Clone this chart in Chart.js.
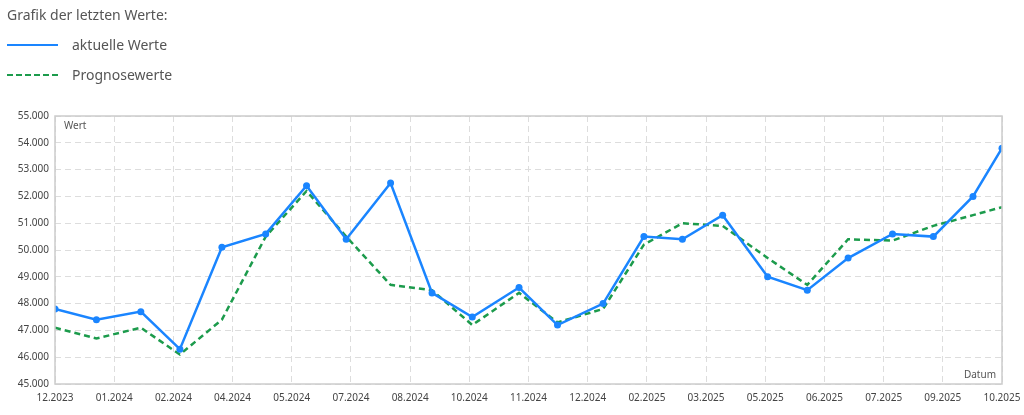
<!DOCTYPE html>
<html>
<head>
<meta charset="utf-8">
<script src="https://cdn.jsdelivr.net/npm/chart.js@4"></script>
<style>
    body { margin: 0; background: #fff; }
    #wrap { position: relative; width: 1024px; height: 415px; overflow: hidden; }
    #chart { position: absolute; left: 0; top: 0; }
    .legend { position: absolute; left: 7px; top: 3px; font-family: "Noto Sans", "Liberation Sans", sans-serif; color: #555; }
    .legend .title { font-size: 14px; height: 27px; line-height: 24px; }
    .legend .item { position: relative; height: 30px; line-height: 30px; font-size: 14px; padding-left: 65px; }
    .legend .item span { position: absolute; left: 0; top: 14px; width: 51px; }
    .legend .blue { border-top: 2.5px solid #1a85ff; }
    .legend .green { border-top: 2.5px dashed #1c9b4c; }
</style>
</head>
<body>
<div id="wrap">
    <canvas id="chart" width="1024" height="415"></canvas>
    <div class="legend">
        <div class="title">Grafik der letzten Werte:</div>
        <div class="item"><span class="blue"></span>aktuelle Werte</div>
        <div class="item"><span class="green"></span>Prognosewerte</div>
    </div>
</div>
<script>
// x axis labels (one per grid line)
const tickLabels = ['12.2023', '01.2024', '02.2024', '04.2024', '05.2024', '07.2024', '08.2024',
    '10.2024', '11.2024', '12.2024', '02.2025', '03.2025', '05.2025', '06.2025', '07.2025',
    '09.2025', '10.2025'];

// x position of each reading, in grid-line units
const readingX = [0, 0.70, 1.45, 2.11, 2.82, 3.56, 4.25, 4.92, 5.67, 6.37, 7.05, 7.84,
    8.49, 9.26, 9.95, 10.60, 11.28, 12.04, 12.71, 13.40, 14.15, 14.84, 15.51, 16];

const actualValues = [47800, 47400, 47700, 46300, 50100, 50600, 52400, 50400, 52500, 48400,
    47500, 48600, 47200, 48000, 50500, 50400, 51300, 49000, 48500, 49700, 50600, 50500,
    52000, 53800];

const forecastValues = [47100, 46700, 47100, 46100, 47400, 50500, 52200, 50500, 48700, 48500,
    47200, 48400, 47300, 47800, 50200, 51000, 50900, 49700, 48700, 50400, 50350, 50900,
    51300, 51600];

const toPoints = (values) => values.map((v, i) => ({ x: readingX[i], y: v }));

const formatThousands = (v) => String(v).replace(/\B(?=(\d{3})+(?!\d))/g, '.');

const axisFont = { family: 'Noto Sans', size: 10 };

// frame around the plot plus the two axis captions
const frameAndCaptions = {
    id: 'frameAndCaptions',
    afterDraw(chart) {
        const { ctx, chartArea: a } = chart;
        ctx.save();
        ctx.strokeStyle = '#cccccc';
        ctx.lineWidth = 1.5;
        ctx.strokeRect(a.left, a.top, a.right - a.left, a.bottom - a.top);
        ctx.fillStyle = '#555';
        ctx.font = '10px "Noto Sans"';
        ctx.textBaseline = 'middle';
        ctx.textAlign = 'left';
        ctx.fillText('Wert', a.left + 9, a.top + 10);
        ctx.textAlign = 'right';
        ctx.fillText('Datum', a.right - 6, a.bottom - 9);
        ctx.restore();
    }
};

new Chart(document.getElementById('chart').getContext('2d'), {
    type: 'line',
    data: {
        datasets: [{
            label: 'Prognosewerte',
            data: toPoints(forecastValues),
            borderColor: '#1c9b4c',
            borderWidth: 2.5,
            borderDash: [6, 4],
            pointRadius: 0,
            tension: 0,
            order: 2
        }, {
            label: 'aktuelle Werte',
            data: toPoints(actualValues),
            borderColor: '#1a85ff',
            backgroundColor: '#1a85ff',
            borderWidth: 2.5,
            pointRadius: 3.5,
            pointBackgroundColor: '#1a85ff',
            pointBorderWidth: 0,
            tension: 0,
            order: 1
        }]
    },
    options: {
        responsive: false,
        animation: false,
        layout: {
            padding: { top: 116, right: 22, left: 0, bottom: 0 }
        },
        plugins: {
            legend: { display: false },
            tooltip: { enabled: false }
        },
        scales: {
            x: {
                type: 'linear',
                min: 0,
                max: tickLabels.length - 1,
                afterFit: (scale) => {
                    scale.height = 31;
                    scale.paddingLeft = 0;
                    scale.paddingRight = 0;
                },
                border: { display: false, dash: [6, 4] },
                grid: {
                    color: '#dddddd',
                    lineWidth: 1,
                    drawTicks: false
                },
                ticks: {
                    stepSize: 1,
                    autoSkip: false,
                    maxRotation: 0,
                    padding: 8,
                    color: '#444',
                    font: axisFont,
                    callback: (value) => tickLabels[value]
                }
            },
            y: {
                min: 45000,
                max: 55000,
                afterFit: (scale) => { scale.width = 55; },
                border: { display: false, dash: [6, 4] },
                grid: {
                    color: '#dddddd',
                    lineWidth: 1,
                    drawTicks: false
                },
                ticks: {
                    stepSize: 1000,
                    padding: 6,
                    color: '#444',
                    font: axisFont,
                    callback: (value) => formatThousands(value)
                }
            }
        }
    },
    plugins: [frameAndCaptions]
});
</script>
</body>
</html>
